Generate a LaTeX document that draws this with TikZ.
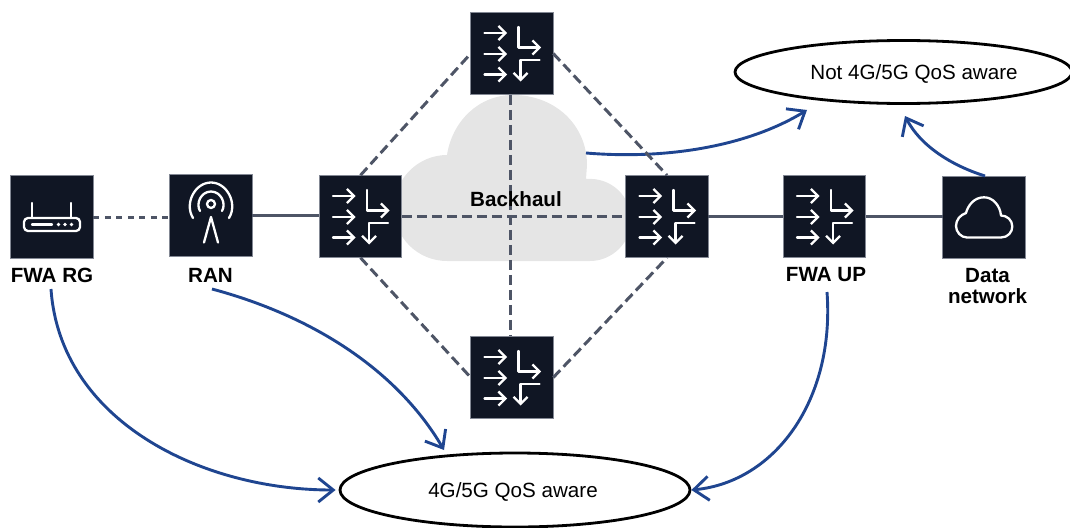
\documentclass[tikz,border=0pt]{standalone}
\usepackage{fontspec}
\setmainfont{Liberation Sans}
\usetikzlibrary{arrows.meta,shapes.geometric}
\definecolor{boxdark}{HTML}{101624}
\definecolor{linegray}{HTML}{4E5566}
\definecolor{flowblue}{HTML}{1F4590}
\definecolor{cloudgray}{HTML}{E5E5E5}
\tikzset{
  x=1pt,y=-1pt,
  devbox/.style={draw=linegray!70,line width=0.6pt,fill=boxdark,minimum width=82.5pt,minimum height=82.5pt,inner sep=0pt,outer sep=0pt},
  lbl/.style={font=\fontsize{20.6}{21.5}\selectfont\bfseries,align=center,inner sep=0pt,text=black},
  txt/.style={font=\fontsize{20.6}{22}\selectfont,inner sep=0pt,text=black},
  solidlink/.style={draw=linegray,line width=3pt},
  dashlink/.style={draw=linegray,line width=3pt,dash pattern=on 10pt off 5pt},
  dotlink/.style={draw=linegray,line width=3pt,dash pattern=on 6pt off 5.5pt},
  flow/.style={draw=flowblue,line width=2.9pt,-{Straight Barb[length=15pt,width=24pt,line width=2.9pt]}},
  icon/.style={draw=white,line width=2.3pt,line cap=round,line join=round},
  iarrow/.style={icon,-{Straight Barb[length=7pt,width=14pt,line width=2.3pt]}},
  bubble/.style={ellipse,draw=black,line width=2.8pt,fill=white,inner sep=0pt},
  switchicon/.pic={
    \draw[iarrow] (-27.5,-20.5) -- (-5,-20.5);
    \draw[iarrow] (-27.5,0.5) -- (-5,0.5);
    \draw[iarrow] (-27.5,21) -- (-5,21);
    \draw[iarrow] (6.5,-26.5) -- (6.5,-6) -- (29,-6);
    \draw[iarrow] (27.5,6.5) -- (8.5,6.5) -- (8.5,28);
  },
  routericon/.pic={
    \draw[icon,rounded corners=4pt] (-28,1) rectangle (28,14);
    \draw[icon] (-20,1) -- (-20,-14);
    \draw[icon] (19,1) -- (19,-14);
    \draw[icon] (-20,7.5) -- (0,7.5);
    \fill[white] (6.5,7.5) circle (1.8) (13,7.5) circle (1.8) (19.5,7.5) circle (1.8);
  },
  ranicon/.pic={
    \draw[icon] (0,-11.5) circle (4);
    \draw[icon] (-11,-4.5) .. controls (-15.5,-12) and (-10,-24) .. (0,-24) .. controls (10,-24) and (15.5,-12) .. (11,-4.5);
    \draw[icon] (-18,2.5) .. controls (-27,-12) and (-16,-33) .. (0,-33) .. controls (16,-33) and (27,-12) .. (18,2.5);
    \draw[icon] (-7,27) -- (0,1.5) -- (7,27);
  },
  cloudicon/.pic={
    \draw[icon] (-17,20) -- (17,20) .. controls (24,20) and (28.3,14.5) .. (28.3,9)
      .. controls (28.3,2.5) and (23,-2) .. (17,-2)
      .. controls (16,-12) and (9,-20.2) .. (0,-20.2)
      .. controls (-10,-20.2) and (-16,-12) .. (-18,-4.5)
      .. controls (-24,-2.5) and (-28,2.5) .. (-28,8.5)
      .. controls (-28,14.5) and (-23,20) .. (-17,20) -- cycle;
  },
}
\begin{document}
\begin{tikzpicture}
\useasboundingbox (0,0) rectangle (1070,527);
% backhaul cloud
\fill[cloudgray] (447,155) .. controls (452,122) and (478,95) .. (513,95)
  .. controls (555,95) and (587,125) .. (587,165) -- (586,179)
  .. controls (612,177) and (631,197) .. (631,220)
  .. controls (631,243) and (612,261) .. (590,261) -- (447,261)
  .. controls (418,261) and (394,238) .. (394,208)
  .. controls (394,179) and (418,155) .. (447,155) -- cycle;
% devices
\node[devbox] (rg) at (52,217) {};
\node[devbox] (ran) at (211,215.5) {};
\node[devbox] (swl) at (360.5,216.5) {};
\node[devbox] (swt) at (512,53.5) {};
\node[devbox] (swr) at (667,216.5) {};
\node[devbox] (swb) at (512,377.5) {};
\node[devbox] (up) at (824.5,216.5) {};
\node[devbox] (dn) at (984,217.5) {};
% ellipses
\node[bubble,minimum width=337pt,minimum height=63pt] (notaware) at (903.5,72) {};
\node[bubble,minimum width=350pt,minimum height=74pt] (aware) at (515,490) {};
\node[txt] (notawaretxt) at (914,73.5) {Not 4G/5G QoS aware};
\node[txt] (awaretxt) at (513,491.5) {4G/5G QoS aware};
% labels
\node[lbl] (rglbl) at (52,275) {FWA RG};
\node[lbl] (ranlbl) at (210.5,275) {RAN};
\node[lbl] (uplbl) at (826,275) {FWA UP};
\node[lbl] (dnlbl) at (987.5,286) {Data\\network};
% free ends
\coordinate (cloudout) at (586,153);
\coordinate (nottip) at (807,110);
\coordinate (nottip2) at (905,116);
\coordinate (dnout) at (985,176);
\coordinate (rgout) at (51,289);
\coordinate (ranout) at (212,289);
\coordinate (upout) at (827,292);
\coordinate (awaretip) at (444,450);
% flows
\draw[flow,shorten >=3pt] (rgout) .. controls (60,420) and (200,490) .. (aware.west);
\draw[flow] (ranout) .. controls (320,318) and (400,375) .. (awaretip);
\draw[flow] (upout) .. controls (835,400) and (775,482) .. (aware.east);
\draw[flow] (cloudout) .. controls (670,160) and (750,145) .. (nottip);
\draw[flow] (dnout) .. controls (950,165) and (920,145) .. (nottip2);
% links
\draw[dotlink] (rg.east) -- (rg.east -| ran.west);
\draw[solidlink] (ran.east) -- (swl.west |- ran.east);
\draw[solidlink] (swr.east) -- (up.west);
\draw[solidlink] (up.east) -- (up.east -| dn.west);
\draw[dashlink] (swl.east) -- (swr.west);
\draw[dashlink] ([xshift=-1.7pt]swt.south) -- ([xshift=-1.7pt]swb.north);
\draw[dashlink] (swl.north) -- (swt.west);
\draw[dashlink] (swt.east) -- (swr.north);
\draw[dashlink] (swl.south) -- (swb.west);
\draw[dashlink] (swb.east) -- (swr.south);
\node[lbl] (backhaul) at (516,199) {Backhaul};
% icons
\pic at (rg) {routericon};
\pic at (ran) {ranicon};
\pic at (swl) {switchicon};
\pic at (swt) {switchicon};
\pic at (swr) {switchicon};
\pic at (swb) {switchicon};
\pic at (up) {switchicon};
\pic at (dn) {cloudicon};
\end{tikzpicture}
\end{document}
